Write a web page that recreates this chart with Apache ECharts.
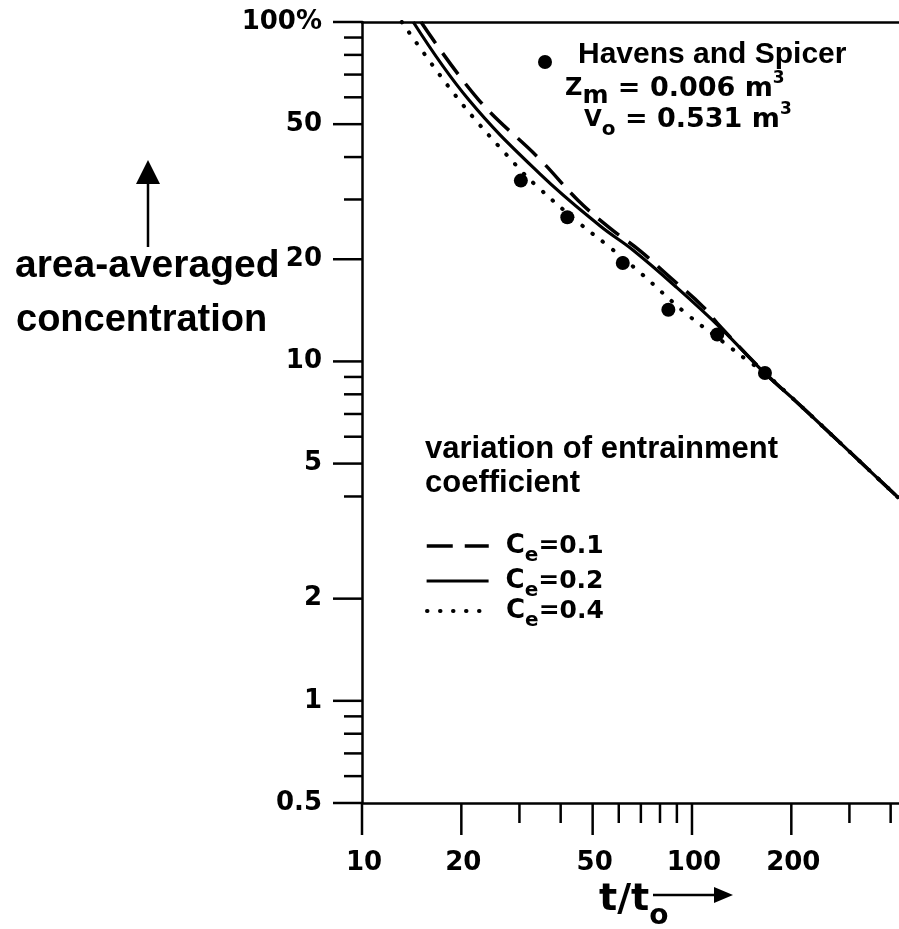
<!DOCTYPE html>
<html><head><meta charset="utf-8">
<script src="https://cdn.jsdelivr.net/npm/echarts@6/dist/echarts.min.js"></script>
<style>html,body{margin:0;padding:0;background:#fff}#c{width:899px;height:929px}</style>
</head><body><div id="c"></div>
<script>
// ---- data ----
const xMajorTicks = [10, 20, 50, 100, 200];
const xTickLabels = ['10', '20', '50', '100', '200'];
const xMinorTicks = [30, 40, 60, 70, 80, 90, 300, 400];
const yMajorTicks = [100, 50, 20, 10, 5, 2, 1, 0.5];
const yTickLabels = ['100%', '50', '20', '10', '5', '2', '1', '0.5'];
const yMinorTicks = [90, 80, 70, 60, 40, 30, 9, 8, 7, 6, 4, 0.9, 0.8, 0.7, 0.6];

const havensSpicer = [[30.3, 34.1], [41.9, 26.6], [61.7, 19.5], [84.8, 14.2], [119.3, 12.0], [166.4, 9.24]];
const ce01 = [[15.1, 100], [22.5, 59.2], [34.6, 39.4], [45.2, 29.8], [56.4, 24.7], [69.5, 21.2], [85.8, 17.7], [108, 14.5], [121.6, 12.7], [166, 9.26], [202, 7.78], [250, 6.41], [424, 3.95]];
const ce02 = [[14.3, 100], [21.0, 59.2], [34.6, 35.7], [52.6, 25.1], [66.2, 21.3], [90, 16.5], [121.6, 12.6], [166, 9.24], [202, 7.78], [250, 6.41], [424, 3.95]];
const ce04 = [[13.2, 100], [19.6, 59.2], [29.4, 37.7], [33.8, 32.9], [45.2, 25.7], [56.0, 21.8], [70.4, 18.1], [94.6, 14.0], [126, 11.3], [144.7, 10.2], [166, 9.24], [202, 7.78], [250, 6.41], [424, 3.95]];

const X_MIN = 10, X_MAX = 424, Y_MIN = 0.5, Y_MAX = 100;

// ---- styling ----
const DJ = '"DejaVu Sans", sans-serif';
const LS = '"Liberation Sans", Arial, sans-serif';
const BLK = '#000';

function yTick(len) {
  return function (params, api) {
    const p = api.coord([api.value(0), api.value(1)]);
    return { type: 'line', shape: { x1: p[0] - len, y1: p[1], x2: p[0], y2: p[1] }, style: { stroke: BLK, lineWidth: 2.5 } };
  };
}
function xTick(len) {
  return function (params, api) {
    const p = api.coord([api.value(0), api.value(1)]);
    return { type: 'line', shape: { x1: p[0], y1: p[1], x2: p[0], y2: p[1] + len }, style: { stroke: BLK, lineWidth: 2.5 } };
  };
}
function customBase(data, renderItem) {
  return { type: 'custom', silent: true, clip: false, z: 5, data: data, renderItem: renderItem };
}

const chart = echarts.init(document.getElementById('c'));
const ceRich = {
  c: { fontFamily: DJ, fontWeight: 'bold', fontSize: 26, lineHeight: 40, verticalAlign: 'middle', color: BLK },
  s: { fontFamily: DJ, fontWeight: 'bold', fontSize: 20, lineHeight: 40, verticalAlign: 'bottom', color: BLK },
  v: { fontFamily: DJ, fontWeight: 'bold', fontSize: 25, lineHeight: 40, verticalAlign: 'middle', color: BLK }
};
function ceLegend(name, top, lw, cap) {
  return {
    data: [name], left: 425, top: top, padding: 0, itemWidth: 62, itemHeight: 14,
    selectedMode: false,
    itemStyle: { color: 'rgba(0,0,0,0)', borderColor: 'rgba(0,0,0,0)', borderWidth: 0, opacity: 0 },
    lineStyle: { width: lw, cap: cap },
    formatter: function (n) { return '{c|C}{s|e}{v|=' + n.split('=')[1] + '}'; },
    textStyle: { rich: ceRich, padding: [0, 0, 0, 12] }
  };
}
const supRich = function (capSize, subSize) {
  return {
    z: { fontFamily: DJ, fontWeight: 'bold', fontSize: capSize, lineHeight: 40, verticalAlign: 'middle', fill: BLK },
    m: { fontFamily: DJ, fontWeight: 'bold', fontSize: subSize, lineHeight: 40, verticalAlign: 'bottom', fill: BLK },
    t: { fontFamily: DJ, fontWeight: 'bold', fontSize: 27, lineHeight: 40, verticalAlign: 'middle', fill: BLK },
    p: { fontFamily: DJ, fontWeight: 'bold', fontSize: 17, lineHeight: 40, verticalAlign: 'top', fill: BLK, padding: [1, 0, 0, 0] }
  };
};

const option = {
  animation: false,
  backgroundColor: '#fff',
  grid: { left: 362, top: 22, right: 0, bottom: 126, containLabel: false },
  xAxis: [
    { type: 'log', logBase: 10, min: X_MIN, max: X_MAX, position: 'bottom',
      axisLine: { show: true, lineStyle: { color: BLK, width: 2.5 } },
      axisTick: { show: false }, axisLabel: { show: false }, splitLine: { show: false } },
    { type: 'log', logBase: 10, min: X_MIN, max: X_MAX, position: 'top',
      axisLine: { show: true, lineStyle: { color: BLK, width: 2.5 } },
      axisTick: { show: false }, axisLabel: { show: false }, splitLine: { show: false } }
  ],
  yAxis: [
    { type: 'log', logBase: 10, min: Y_MIN, max: Y_MAX,
      axisLine: { show: true, lineStyle: { color: BLK, width: 2.5 } },
      axisTick: { show: false }, axisLabel: { show: false }, splitLine: { show: false } }
  ],
  legend: [
    {
      data: ['Havens and Spicer'], left: 538, top: 39.5, padding: 0, itemWidth: 14, itemHeight: 14,
      selectedMode: false, icon: 'circle', itemStyle: { color: BLK, opacity: 1 },
      formatter: '{h|{name}}',
      textStyle: { rich: { h: { fontFamily: LS, fontWeight: 'bold', fontSize: 30, lineHeight: 36, color: BLK, padding: [0, 0, 15, 21] } } }
    },
    ceLegend('Ce=0.1', 533, 3.5, 'butt'),
    ceLegend('Ce=0.2', 568, 3.2, 'butt'),
    ceLegend('Ce=0.4', 598, 4, 'round')
  ],
  series: [
    { name: 'Ce=0.1', type: 'line', data: ce01, symbol: 'none', smooth: 0.4, z: 3,
      lineStyle: { color: BLK, width: 3.5, type: [26, 12] } },
    { name: 'Ce=0.2', type: 'line', data: ce02, symbol: 'none', smooth: 0.4, z: 3,
      lineStyle: { color: BLK, width: 3.2 } },
    { name: 'Ce=0.4', type: 'line', data: ce04, symbol: 'none', smooth: 0.4, z: 3,
      lineStyle: { color: BLK, width: 4, type: [0.5, 12.5], cap: 'round' } },
    { name: 'Havens and Spicer', type: 'scatter', data: havensSpicer, symbol: 'circle', symbolSize: 14, z: 4,
      itemStyle: { color: BLK, opacity: 1 } },
    customBase(yMajorTicks.map(v => [X_MIN, v]), yTick(29)),
    customBase(yMinorTicks.map(v => [X_MIN, v]), yTick(18)),
    customBase(xMajorTicks.map(v => [v, Y_MIN]), xTick(32)),
    customBase(xMinorTicks.map(v => [v, Y_MIN]), xTick(20)),
    customBase(yMajorTicks.map(v => [X_MIN, v]), function (params, api) {
      const p = api.coord([api.value(0), api.value(1)]);
      return { type: 'text', x: p[0] - 40, y: p[1], style: { text: yTickLabels[params.dataIndex], fill: BLK,
        fontFamily: DJ, fontWeight: 'bold', fontSize: 26, align: 'right', verticalAlign: 'middle' } };
    }),
    customBase(xMajorTicks.map(v => [v, Y_MIN]), function (params, api) {
      const p = api.coord([api.value(0), api.value(1)]);
      return { type: 'text', x: p[0] + 2, y: p[1] + 60, style: { text: xTickLabels[params.dataIndex], fill: BLK,
        fontFamily: DJ, fontWeight: 'bold', fontSize: 26, align: 'center', verticalAlign: 'middle' } };
    })
  ],
  graphic: [
    { type: 'text', x: 565, y: 89, style: {
        text: '{z|Z}{m|m}{t| = 0.006 m}{p|3}', verticalAlign: 'middle', rich: supRich(24, 25) } },
    { type: 'text', x: 584, y: 120, style: {
        text: '{z|V}{m|o}{t| = 0.531 m}{p|3}', verticalAlign: 'middle', rich: supRich(23, 20) } },
    { type: 'text', x: 425, y: 449, style: { text: 'variation of entrainment', fill: BLK, fontFamily: LS, fontWeight: 'bold', fontSize: 31, verticalAlign: 'middle' } },
    { type: 'text', x: 425, y: 483, style: { text: 'coefficient', fill: BLK, fontFamily: LS, fontWeight: 'bold', fontSize: 31, verticalAlign: 'middle' } },
    { type: 'text', x: 15, y: 266, style: { text: 'area-averaged', fill: BLK, fontFamily: LS, fontWeight: 'bold', fontSize: 39, verticalAlign: 'middle' } },
    { type: 'text', x: 16, y: 321, style: { text: 'concentration', fill: BLK, fontFamily: LS, fontWeight: 'bold', fontSize: 38, verticalAlign: 'middle' } },
    { type: 'line', shape: { x1: 148, y1: 247, x2: 148, y2: 178 }, style: { stroke: BLK, lineWidth: 2.5 } },
    { type: 'polygon', shape: { points: [[148, 160], [136, 184], [160, 184]] }, style: { fill: BLK } },
    { type: 'text', x: 599, y: 900, style: {
        text: '{a|t/t}{b|o}', verticalAlign: 'middle',
        rich: {
          a: { fontFamily: DJ, fontWeight: 'bold', fontSize: 38, lineHeight: 62, verticalAlign: 'middle', fill: BLK },
          b: { fontFamily: DJ, fontWeight: 'bold', fontSize: 28, lineHeight: 62, verticalAlign: 'bottom', fill: BLK }
        } } },
    { type: 'line', shape: { x1: 653, y1: 895, x2: 716, y2: 895 }, style: { stroke: BLK, lineWidth: 2.5 } },
    { type: 'polygon', shape: { points: [[733, 895], [714, 887], [714, 903]] }, style: { fill: BLK } }
  ]
};
chart.setOption(option);
</script>
</body></html>
